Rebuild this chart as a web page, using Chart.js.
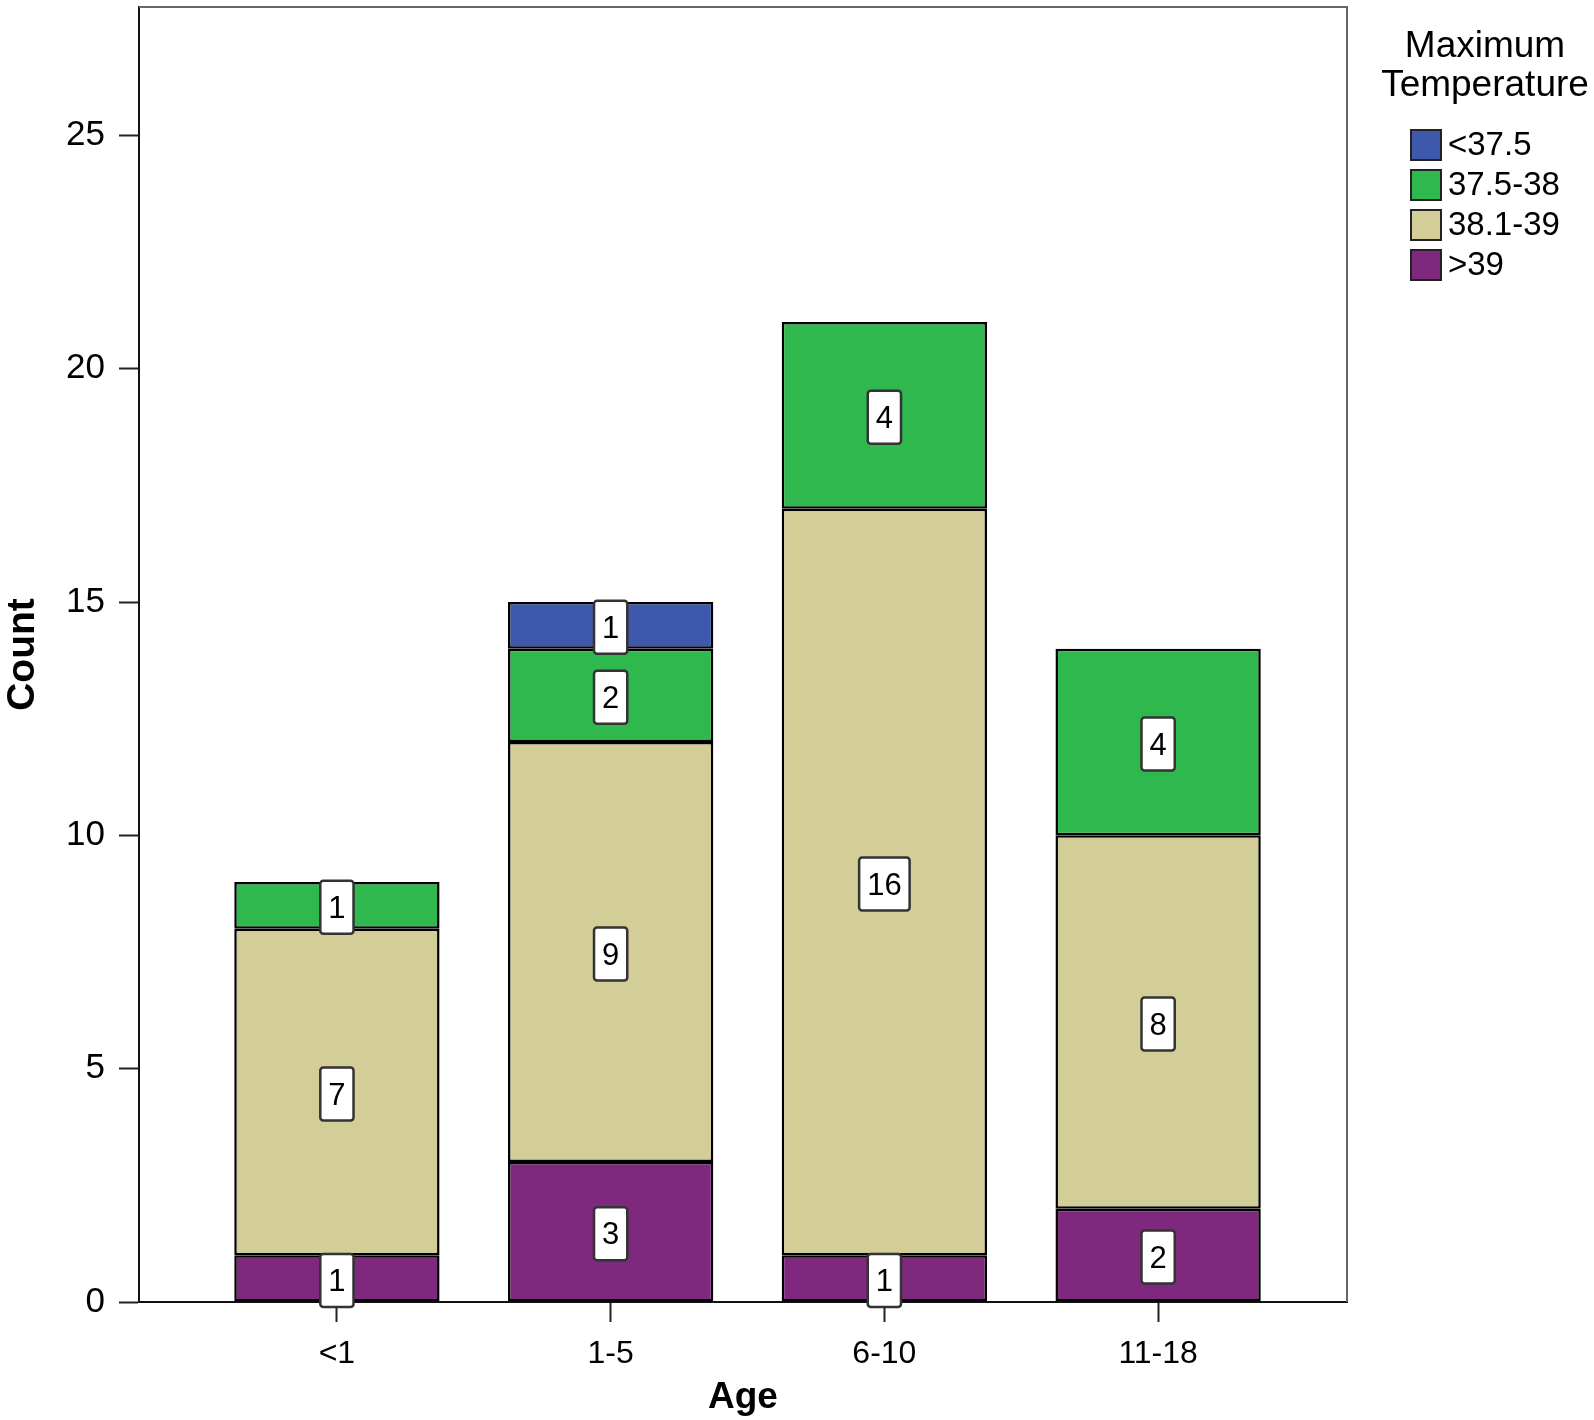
<!DOCTYPE html>
<html>
<head>
<meta charset="utf-8">
<script src="https://cdn.jsdelivr.net/npm/chart.js@4/dist/chart.umd.min.js"></script>
<style>
    html, body { margin: 0; padding: 0; background: #fff; }
    #wrap { width: 1594px; height: 1420px; }
</style>
</head>
<body>
<div id="wrap"><canvas id="tempChart" width="1594" height="1420"></canvas></div>
<script>
// Data
const ageGroups = ['<1', '1-5', '6-10', '11-18'];
const over39 = [1, 3, 1, 2];
const t381to39 = [7, 9, 16, 8];
const t375to38 = [1, 2, 4, 4];
const under375 = [0, 1, 0, 0];
const yTicks = [0, 5, 10, 15, 20, 25];

const FONT = '"Liberation Sans", Arial, sans-serif';

function toPoints(values) {
    return values.map(function(v, i) { return { x: i, y: v }; });
}

// White boxes with the count in each segment
const segmentLabels = {
    id: 'segmentLabels',
    afterDatasetsDraw: function(chart) {
        const ctx = chart.ctx;
        ctx.save();
        ctx.font = '31px ' + FONT;
        ctx.textAlign = 'center';
        ctx.textBaseline = 'middle';
        chart.data.datasets.forEach(function(ds, di) {
            const meta = chart.getDatasetMeta(di);
            meta.data.forEach(function(bar, i) {
                const v = ds.data[i].y;
                if (!v) return;
                const cx = bar.x;
                const cy = (bar.y + bar.base) / 2 + 2;
                const w = ctx.measureText(String(v)).width + 16;
                const h = 53;
                ctx.beginPath();
                ctx.roundRect(cx - w / 2, cy - h / 2, w, h, 3);
                ctx.fillStyle = '#fff';
                ctx.fill();
                ctx.lineWidth = 2.5;
                ctx.strokeStyle = '#333';
                ctx.stroke();
                ctx.fillStyle = '#000';
                ctx.fillText(String(v), cx, cy + 2);
            });
        });
        ctx.restore();
    }
};

// Gray frame on top and right of the plot
const plotFrame = {
    id: 'plotFrame',
    afterDraw: function(chart) {
        const a = chart.chartArea;
        const ctx = chart.ctx;
        ctx.save();
        ctx.strokeStyle = '#666';
        ctx.lineWidth = 2;
        ctx.beginPath();
        ctx.moveTo(a.left, a.top);
        ctx.lineTo(a.right, a.top);
        ctx.lineTo(a.right, a.bottom);
        ctx.stroke();
        ctx.restore();
    }
};

// Legend with two-line title, in reverse stacking order
const sideLegend = {
    id: 'sideLegend',
    afterDraw: function(chart) {
        const ctx = chart.ctx;
        const x0 = chart.chartArea.right;
        ctx.save();
        ctx.fillStyle = '#000';
        ctx.textAlign = 'center';
        ctx.textBaseline = 'middle';
        ctx.font = '37px ' + FONT;
        ctx.fillText('Maximum', x0 + 138, 47);
        ctx.fillText('Temperature', x0 + 138, 86);
        ctx.font = '33px ' + FONT;
        ctx.textAlign = 'left';
        const items = chart.data.datasets.slice().reverse();
        items.forEach(function(ds, i) {
            const cy = 145 + i * 40;
            ctx.fillStyle = ds.backgroundColor;
            ctx.fillRect(x0 + 64, cy - 15, 30, 30);
            ctx.strokeStyle = '#222';
            ctx.lineWidth = 2;
            ctx.strokeRect(x0 + 64, cy - 15, 30, 30);
            ctx.fillStyle = '#000';
            ctx.fillText(ds.label, x0 + 101, cy + 1);
        });
        ctx.restore();
    }
};

function makeDataset(label, values, color) {
    return {
        label: label,
        data: toPoints(values),
        backgroundColor: color,
        borderColor: '#000',
        borderWidth: 2.5,
        borderSkipped: false,
        barPercentage: 0.75,
        categoryPercentage: 1.0
    };
}

new Chart(document.getElementById('tempChart'), {
    type: 'bar',
    data: {
        datasets: [
            makeDataset('>39', over39, '#7e287e'),
            makeDataset('38.1-39', t381to39, '#d3ce97'),
            makeDataset('37.5-38', t375to38, '#2eb84e'),
            makeDataset('<37.5', under375, '#3e58ac')
        ]
    },
    options: {
        responsive: false,
        animation: false,
        layout: { padding: { left: 0, top: 7, right: 247, bottom: 0 } },
        plugins: {
            legend: { display: false },
            tooltip: { enabled: false }
        },
        scales: {
            x: {
                type: 'linear',
                stacked: true,
                min: -0.723,
                max: 3.69,
                offset: false,
                afterBuildTicks: function(axis) {
                    axis.ticks = ageGroups.map(function(_, i) { return { value: i }; });
                },
                afterFit: function(axis) {
                    axis.height = 118;
                    axis.paddingLeft = 0;
                    axis.paddingRight = 0;
                },
                ticks: {
                    autoSkip: false,
                    maxRotation: 0,
                    padding: 13,
                    color: '#000',
                    font: { family: FONT, size: 32 },
                    callback: function(v) { return ageGroups[v]; }
                },
                grid: {
                    offset: false,
                    drawOnChartArea: false,
                    tickLength: 20,
                    tickWidth: 2,
                    tickColor: '#222'
                },
                border: { color: '#111', width: 2 },
                title: {
                    display: true,
                    text: 'Age',
                    color: '#000',
                    padding: { top: 0, bottom: 0 },
                    font: { family: FONT, size: 37, weight: 'bold' }
                }
            },
            y: {
                stacked: true,
                min: 0,
                max: 27.75,
                afterBuildTicks: function(axis) {
                    axis.ticks = yTicks.map(function(v) { return { value: v }; });
                },
                afterFit: function(axis) {
                    axis.width = 139;
                    axis.paddingTop = 0;
                    axis.paddingBottom = 0;
                },
                ticks: {
                    padding: 14,
                    color: '#000',
                    font: { family: FONT, size: 35 }
                },
                grid: {
                    drawOnChartArea: false,
                    tickLength: 20,
                    tickWidth: 2,
                    tickColor: '#222'
                },
                border: { color: '#111', width: 2 },
                title: {
                    display: true,
                    text: 'Count',
                    color: '#000',
                    padding: { top: 0, bottom: 0 },
                    font: { family: FONT, size: 39, weight: 'bold' }
                }
            }
        }
    },
    plugins: [segmentLabels, plotFrame, sideLegend]
});
</script>
</body>
</html>
